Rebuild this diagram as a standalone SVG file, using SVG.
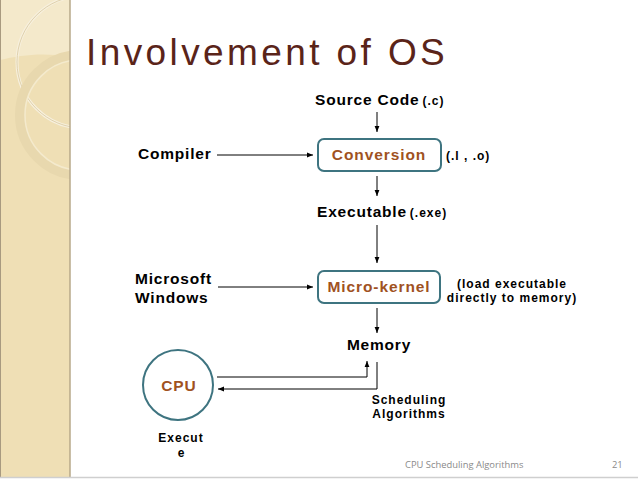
<svg xmlns="http://www.w3.org/2000/svg" width="638" height="479" viewBox="0 0 638 479">
<defs>
<marker id="ah" viewBox="0 0 10 10" refX="10" refY="5" markerWidth="6" markerHeight="6" orient="auto" markerUnits="userSpaceOnUse">
<path d="M0,1 L10,5 L0,9 Z" fill="#000"/>
</marker>
<clipPath id="side"><rect x="0" y="0" width="70" height="477"/></clipPath>
</defs>
<style>
.lbl{font-family:"Liberation Sans",Arial,sans-serif;font-weight:bold;fill:#000;}
.big{font-size:15.5px;letter-spacing:0.8px;}
.sm{font-size:12px;letter-spacing:1px;}
.box{fill:#fff;stroke:#3E7480;stroke-width:2;}
.boxt{font-family:"Liberation Sans",Arial,sans-serif;font-weight:bold;font-size:15.5px;letter-spacing:0.9px;fill:#A0521F;}
.ln{stroke:#000;stroke-width:1;fill:none;}
</style>
<rect x="0" y="0" width="638" height="479" fill="#fff"/>
<g id="sidebar">
<rect x="0" y="0" width="70" height="477" fill="#EFDFB5"/>
<g clip-path="url(#side)">
<path d="M0,0 H70 V57 C45,52 20,55 0,60 Z" fill="#F4E9CB"/>
<circle cx="83" cy="62" r="66" fill="none" stroke="#F7F0DE" stroke-width="3"/>
<circle cx="83" cy="62" r="66" fill="none" stroke="#D9C9A0" stroke-width="0.8"/>
<circle cx="80" cy="115" r="60" fill="none" stroke="#E8D8AE" stroke-width="10"/>
<circle cx="80" cy="115" r="55" fill="none" stroke="#F4EACD" stroke-width="1.5"/>
</g>
<line x1="0.5" y1="0" x2="0.5" y2="477" stroke="#A89A80" stroke-width="1"/>
<line x1="70" y1="0" x2="70" y2="477" stroke="#B7A88A" stroke-width="1.5"/>
</g>
<line x1="0" y1="477.5" x2="638" y2="477.5" stroke="#CFCFCF" stroke-width="1.5"/>
<text x="86" y="65" font-family="'Liberation Sans',Arial,sans-serif" font-size="37" letter-spacing="3.4" fill="#5A2419">Involvement of OS</text>
<g id="connectors">
<line class="ln" x1="377" y1="112" x2="377" y2="132" marker-end="url(#ah)"/>
<line class="ln" x1="217" y1="155" x2="313" y2="155" marker-end="url(#ah)"/>
<line class="ln" x1="377" y1="176" x2="377" y2="196" marker-end="url(#ah)"/>
<line class="ln" x1="377" y1="225" x2="377" y2="263" marker-end="url(#ah)"/>
<line class="ln" x1="218" y1="287" x2="313" y2="287" marker-end="url(#ah)"/>
<line class="ln" x1="377" y1="308" x2="377" y2="333" marker-end="url(#ah)"/>
<polyline class="ln" points="217,377 367,377 367,361" marker-end="url(#ah)"/>
<polyline class="ln" points="377,362 377,389 218,389" marker-end="url(#ah)"/>
</g>
<g id="source"><text class="lbl" x="315" y="105"><tspan class="big">Source Code</tspan><tspan class="sm" dx="3">(.c)</tspan></text></g>
<g id="compiler"><text class="lbl big" x="138" y="159">Compiler</text></g>
<g id="conversion">
<rect class="box" x="318" y="139" width="123" height="32" rx="6"/>
<text class="boxt" x="379" y="160" text-anchor="middle">Conversion</text>
</g>
<g id="ext"><text class="lbl sm" x="446" y="160">(.l , .o)</text></g>
<g id="executable"><text class="lbl" x="317" y="217"><tspan class="big">Executable</tspan><tspan class="sm" dx="3">(.exe)</tspan></text></g>
<g id="windows"><text class="lbl big" x="135" y="284">Microsoft</text><text class="lbl big" x="135" y="303">Windows</text></g>
<g id="microkernel">
<rect class="box" x="318" y="271" width="122" height="32" rx="6"/>
<text class="boxt" x="379" y="292" text-anchor="middle">Micro-kernel</text>
</g>
<g id="load"><text class="lbl sm" x="512" y="288" text-anchor="middle">(load executable</text><text class="lbl sm" x="512" y="302" text-anchor="middle">directly to memory)</text></g>
<g id="memory"><text class="lbl big" x="379" y="350" text-anchor="middle">Memory</text></g>
<g id="cpu">
<circle cx="178" cy="385" r="35" fill="#fff" stroke="#3E7480" stroke-width="2"/>
<text class="boxt" x="179" y="391" text-anchor="middle" letter-spacing="1.5">CPU</text>
</g>
<g id="sched"><text class="lbl sm" x="409" y="404" text-anchor="middle">Scheduling</text><text class="lbl sm" x="409" y="418" text-anchor="middle">Algorithms</text></g>
<g id="execute"><text class="lbl" font-size="12" letter-spacing="1" x="181" y="442" text-anchor="middle">Execut</text><text class="lbl" font-size="12" x="181" y="457" text-anchor="middle">e</text></g>
<g id="footer">
<text x="405" y="468" font-family="'Open Sans','Liberation Sans',sans-serif" font-size="9.4" fill="#8A8A8A">CPU Scheduling Algorithms</text>
<text x="612" y="468" font-family="'Open Sans','Liberation Sans',sans-serif" font-size="9.4" fill="#8A8A8A">21</text>
</g>
</svg>
